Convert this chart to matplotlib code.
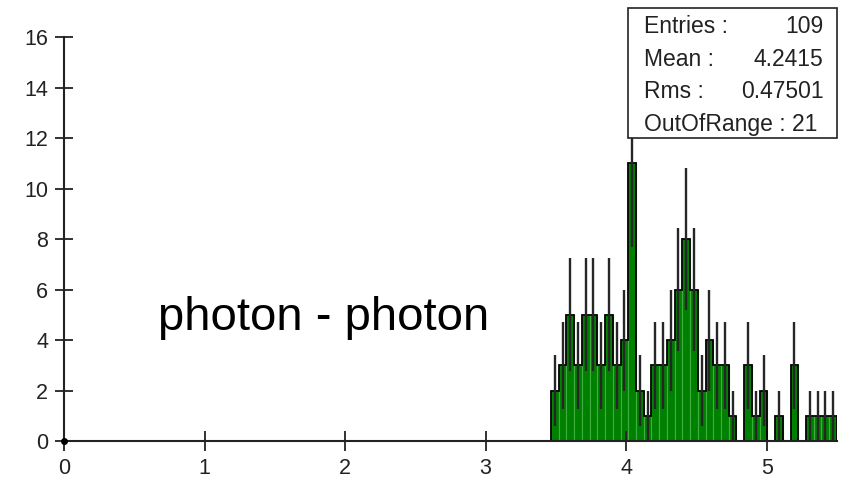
import numpy as np
import matplotlib
matplotlib.use("Agg")
import matplotlib.pyplot as plt
from matplotlib.patches import Rectangle

plt.rcParams['font.family'] = ['Liberation Sans', 'DejaVu Sans']

# histogram: 100 bins on [0, 5.5], only bins 63..99 are filled
n_bins = 100
x_range = (0.0, 5.5)
first_bin = 63
counts = [2, 3, 5, 3, 5, 5, 3, 5, 3, 4, 11, 2, 1, 3, 3, 4, 6, 8, 6, 2,
          4, 3, 3, 1, 0, 3, 1, 2, 0, 1, 0, 3, 0, 1, 1, 1, 1]
stats_names = ["Entries :", "Mean :", "Rms :"]
stats_values = ["109", "4.2415", "0.47501"]
out_of_range = "OutOfRange : 21"
label = "photon - photon"

counts = np.array(counts)
edges = np.linspace(x_range[0], x_range[1], n_bins + 1)[first_bin:]
width = edges[1] - edges[0]
centers = edges[:-1] + width / 2

fig = plt.figure(figsize=(8.42, 4.83), dpi=100)
ax = fig.add_axes([0.076, 0.087, 0.918, 0.836])

ax.bar(edges[:-1], counts, width=width, align='edge', color='#008000',
       edgecolor='#3fae3f', linewidth=0.8, zorder=1)
ax.stairs(counts, edges, color='black', lw=1.3, zorder=2)

# sqrt(N) error bars
nz = counts > 0
err = np.sqrt(counts[nz])
ax.vlines(centers[nz], counts[nz] - err, counts[nz] + err,
          color='#262626', lw=1.7, zorder=3, clip_on=False)

ax.set_xlim(x_range)
ax.set_ylim(0, 16)
ax.set_xticks(range(0, 6))
ax.set_yticks(range(0, 17, 2))
for s in ['top', 'right']:
    ax.spines[s].set_visible(False)
for s in ['left', 'bottom']:
    ax.spines[s].set_color('#222222')
    ax.spines[s].set_linewidth(1.5)
ax.tick_params(axis='y', direction='inout', length=13, width=1.3, pad=5,
               labelsize=15.5, colors='#222222')
ax.tick_params(axis='x', direction='inout', length=14, width=1.3, pad=5,
               labelsize=15.5, colors='#222222')
ax.plot([0], [0], 'o', color='black', ms=4, clip_on=False, zorder=5)

ax.text(0.67, 4.4, label, fontsize=34, color='black', va='baseline')

# stats box
box = Rectangle((0.746, 0.714), 0.248, 0.27, transform=fig.transFigure,
                facecolor='white', edgecolor='#222222', lw=1.2, zorder=10)
fig.patches.append(box)
ys = [0.932, 0.863, 0.797, 0.729]
for name, val, y in zip(stats_names, stats_values, ys):
    fig.text(0.765, y, name, fontsize=16.5, va='baseline', color='#222222', zorder=11)
    fig.text(0.978, y, val, fontsize=16.5, va='baseline', ha='right', color='#222222', zorder=11)
fig.text(0.765, ys[3], out_of_range, fontsize=16.5, va='baseline', color='#222222', zorder=11)

fig.savefig("out.png", dpi=100)
